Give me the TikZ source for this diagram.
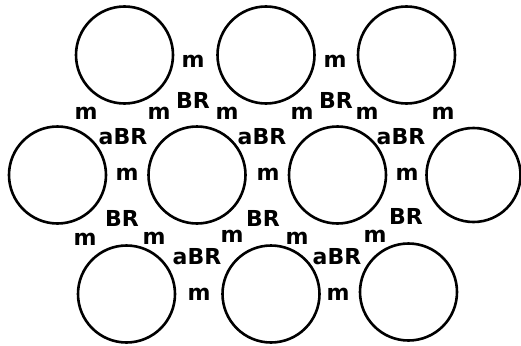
\documentclass[tikz,border=0pt]{standalone}
\usepackage{fontspec}
\setmainfont{DejaVu Sans}
\begin{document}
\begin{tikzpicture}[x=1pt,y=-1pt,
  ring/.style={circle,draw,line width=2.6pt,minimum size=97pt,inner sep=0pt},
  lbl/.style={font=\fontsize{22}{22}\selectfont\bfseries,inner sep=0pt}]
\useasboundingbox (0,0) rectangle (521,345);
% top row
\node[ring] (t1) at (124.5,55) {};
\node[ring] (t2) at (266,55) {};
\node[ring] (t3) at (406.5,55) {};
% middle row
\node[ring] (c1) at (57.5,175) {};
\node[ring] (c2) at (197,175) {};
\node[ring] (c3) at (337.5,175) {};
\node[ring,minimum size=94pt] (c4) at (473.5,175) {};
% bottom row
\node[ring] (b1) at (126.5,294) {};
\node[ring] (b2) at (271,294) {};
\node[ring] (b3) at (408.5,292) {};
% labels
\node[lbl] (m1) at (193,61) {m};
\node[lbl] (m2) at (335,61) {m};
\node[lbl] (br1) at (193,100) {BR};
\node[lbl] (br2) at (336,100) {BR};
\node[lbl] (m3) at (86,113) {m};
\node[lbl] (m4) at (159,113) {m};
\node[lbl] (m5) at (227,113) {m};
\node[lbl] (m6) at (302,113) {m};
\node[lbl] (m7) at (367,113) {m};
\node[lbl] (m8) at (443,113) {m};
\node[lbl] (ab1) at (123,137) {aBR};
\node[lbl] (ab2) at (262,137) {aBR};
\node[lbl] (ab3) at (401,137) {aBR};
\node[lbl] (m9) at (127,174) {m};
\node[lbl] (m10) at (268,174) {m};
\node[lbl] (m11) at (407,174) {m};
\node[lbl] (br3) at (122,218) {BR};
\node[lbl] (br4) at (263,218) {BR};
\node[lbl] (br5) at (406,216) {BR};
\node[lbl] (m12) at (85,239) {m};
\node[lbl] (m13) at (154,238) {m};
\node[lbl] (m14) at (232,236) {m};
\node[lbl] (m15) at (297,238) {m};
\node[lbl] (m16) at (375,236) {m};
\node[lbl] (ab4) at (197,257) {aBR};
\node[lbl] (ab5) at (337,257) {aBR};
\node[lbl] (m17) at (199,294) {m};
\node[lbl] (m18) at (338,294) {m};
\end{tikzpicture}
\end{document}
